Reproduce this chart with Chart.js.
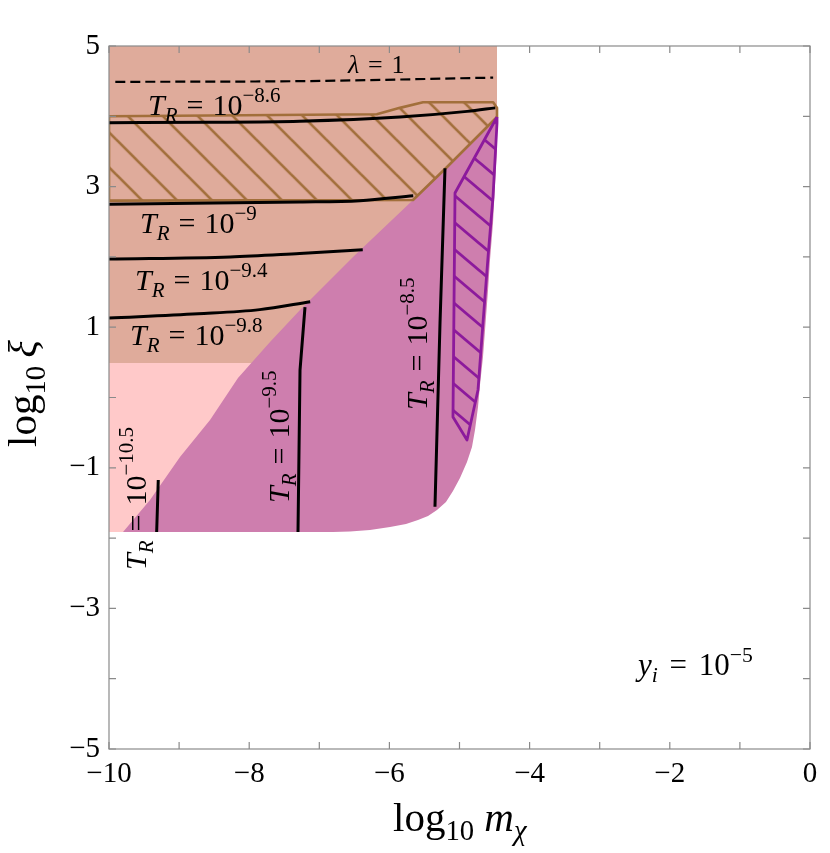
<!DOCTYPE html>
<html><head><meta charset="utf-8">
<script src="https://cdn.jsdelivr.net/npm/chart.js@4.4.0/dist/chart.umd.min.js"></script>
<style>html,body{margin:0;padding:0;background:#fff}#wrap{width:830px;height:853px;position:relative}</style>
</head><body><div id="wrap"><canvas id="c"></canvas></div>
<script>
// ---------- data ----------
const xTickValues = [-10, -8, -6, -4, -2, 0];
const yTickValues = [5, 3, 1, -1, -3, -5];

const lightPinkX = [-10, -7.0, -7.0, -10];
const lightPinkY = [-1.913, -1.913, 0.49, 0.49];

const brownX = [-10, -7.0, -4.60, -4.465, -4.465, -10];
const brownY = [0.49, 0.49, 3.5, 3.99, 5, 5];

const magentaX = [-9.800, -9.415, -8.987, -8.559, -8.160, -7.703, -7.275, -6.519, -5.663, -5.178, -4.465,
                  -4.465, -4.494, -4.522, -4.565, -4.593, -4.636, -4.665, -4.708, -4.736, -4.779, -4.822,
                  -4.893, -4.993, -5.093, -5.193, -5.321, -5.449, -5.592, -5.763, -5.991, -6.277, -6.562,
                  -6.805, -9.800];
const magentaY = [-1.913, -1.458, -0.846, -0.320, 0.277, 0.789, 1.245, 1.999, 2.810, 3.279, 3.990,
                  3.563, 3.023, 2.482, 1.956, 1.529, 0.960, 0.576, 0.178, -0.135, -0.462, -0.704,
                  -0.917, -1.145, -1.330, -1.486, -1.600, -1.686, -1.743, -1.799, -1.842, -1.885, -1.906,
                  -1.913, -1.913];

const brownHatchX = [-10, -6.18, -5.85, -5.52, -4.52, -4.465, -4.465, -5.178, -5.663, -10, -10];
const brownHatchY = [4.00, 4.03, 4.12, 4.20, 4.20, 4.12, 3.99, 3.279, 2.81, 2.80, 4.00];

const purpleHatchX = [-4.465, -5.064, -5.093, -4.893, -4.736, -4.665, -4.593, -4.522, -4.465, -4.465];
const purpleHatchY = [3.99, 2.909, -0.277, -0.605, 0.107, 1.060, 1.999, 2.852, 3.905, 3.99];

const tr86X = [-10, -8.6, -7.28, -5.85, -4.89, -4.49];
const tr86Y = [3.91, 3.915, 3.93, 3.99, 4.07, 4.12];
const tr9X = [-10, -7.28, -6.42, -5.66];
const tr9Y = [2.75, 2.78, 2.80, 2.87];
const tr94X = [-10, -8.27, -7.28, -6.38];
const tr94Y = [1.97, 2.00, 2.05, 2.10];
const tr98X = [-10, -8.73, -7.85, -7.13];
const tr98Y = [1.13, 1.19, 1.25, 1.363];
const tr105X = [-9.297, -9.320];
const tr105Y = [-1.174, -1.913];
const tr95X = [-7.204, -7.275, -7.304];
const tr95Y = [1.287, 0.391, -1.913];
const tr85X = [-5.207, -5.278, -5.350];
const tr85Y = [3.26, 1.06, -1.553];
const lambdaX = [-9.91, -7.28, -4.52];
const lambdaY = [4.49, 4.50, 4.55];

// ---------- helpers ----------
const FONT = '"Liberation Serif", "Times New Roman", serif';
const pts = (xs, ys) => xs.map((x, i) => ({x, y: ys[i]}));
const fmt = v => (v < 0 ? '\u2212' + Math.abs(v) : String(v));

function hatch(w, h, color, lw, tx, ty) {
  const c = document.createElement('canvas');
  c.width = w; c.height = h;
  const g = c.getContext('2d');
  g.strokeStyle = color; g.lineWidth = lw; g.lineCap = 'butt';
  for (const k of [-1, 0, 1]) {
    g.beginPath();
    g.moveTo(-w, k * h - h);
    g.lineTo(2 * w, k * h + 2 * h);
    g.stroke();
  }
  const p = document.getElementById('c').getContext('2d').createPattern(c, 'repeat');
  p.setTransform(new DOMMatrix([1, 0, 0, 1, tx, ty]));
  return p;
}
const brownPattern = hatch(35, 35, '#A26F3B', 2.6, 11.7, 0);
const purplePattern = hatch(32, 27, '#8C1A9C', 2.8, 0, 1);

function region(xs, ys, fillStyle, order, border, bw) {
  return {data: pts(xs, ys), fill: 'shape', backgroundColor: fillStyle,
          borderColor: border || 'rgba(0,0,0,0)', borderWidth: bw || 0.01,
          pointRadius: 0, tension: 0, order, borderJoinStyle: 'round'};
}
function curve(xs, ys, order, smooth, dash, w) {
  const d = {data: pts(xs, ys), fill: false, borderColor: '#000', borderWidth: w || 3,
          borderDash: dash || [], pointRadius: 0, tension: 0, order, borderCapStyle: 'butt'};
  if (smooth) d.cubicInterpolationMode = 'monotone';
  return d;
}

// ---------- text annotations ----------
const TR = e => [{t: 'T', it: 1}, {t: 'R', it: 1, sub: 1}, {gap: 0.3}, {t: '='}, {gap: 0.3}, {t: '10'}, {t: '\u2212' + e, sup: 1}];
const annotations = [
  {segs: [{t: '\u03bb', it: 1}, {gap: 0.34}, {t: '='}, {gap: 0.34}, {t: '1'}], x: -6.591, y: 4.616, size: 26},
  {segs: TR('8.6'), x: -9.444, y: 4.018, size: 30},
  {segs: TR('9'), x: -9.558, y: 2.340, size: 30},
  {segs: TR('9.4'), x: -9.629, y: 1.529, size: 30},
  {segs: TR('9.8'), x: -9.700, y: 0.747, size: 30},
  {segs: TR('10.5'), x: -9.472, y: -2.454, size: 30, rot: 1},
  {segs: TR('9.5'), x: -7.432, y: -1.501, size: 30, rot: 1},
  {segs: TR('8.5'), x: -5.464, y: -0.178, size: 30, rot: 1},
  {segs: [{t: 'y', it: 1}, {t: 'i', it: 1, sub: 1}, {gap: 0.38}, {t: '='}, {gap: 0.38}, {t: '10'}, {t: '\u22125', sup: 1}], x: -2.454, y: -3.947, size: 31}
];
const xTitle = [{t: 'log'}, {t: '10', sub: 1}, {gap: 0.25}, {t: 'm', it: 1}, {t: '\u03c7', it: 1, sub: 1}];
const yTitle = [{t: 'log'}, {t: '10', sub: 1}, {gap: 0.2}, {t: '\u03be', it: 1}];

function drawRich(ctx, segs, x, y, size, rot) {
  ctx.save();
  ctx.translate(x, y);
  if (rot) ctx.rotate(-Math.PI / 2);
  ctx.textBaseline = 'alphabetic'; ctx.textAlign = 'left'; ctx.fillStyle = '#000';
  let cx = 0;
  for (const s of segs) {
    if (s.gap !== undefined) { cx += s.gap * size; continue; }
    const sz = (s.sub || s.sup) ? size * 0.7 : size;
    ctx.font = (s.it ? 'italic ' : '') + sz.toFixed(1) + 'px ' + FONT;
    const dy = s.sub ? 0.22 * size : (s.sup ? -0.42 * size : 0);
    ctx.fillText(s.t, cx, dy);
    cx += ctx.measureText(s.t).width;
  }
  ctx.restore();
}

const decor = {
  id: 'decor',
  afterDatasetsDraw(chart) {
    const ctx = chart.ctx, a = chart.chartArea, xs = chart.scales.x, ys = chart.scales.y;
    ctx.save();
    ctx.strokeStyle = '#8a8a8a'; ctx.lineWidth = 1.2;
    ctx.strokeRect(a.left, a.top, a.right - a.left, a.bottom - a.top);
    const L = 7;
    ctx.beginPath();
    for (let v = -10; v <= 0; v++) {
      const px = xs.getPixelForValue(v);
      ctx.moveTo(px, a.bottom); ctx.lineTo(px, a.bottom - L);
      ctx.moveTo(px, a.top); ctx.lineTo(px, a.top + L);
    }
    for (let v = -5; v <= 5; v++) {
      const py = ys.getPixelForValue(v);
      ctx.moveTo(a.left, py); ctx.lineTo(a.left + L, py);
      ctx.moveTo(a.right, py); ctx.lineTo(a.right - L, py);
    }
    ctx.stroke();
    ctx.restore();
    for (const an of annotations) {
      drawRich(ctx, an.segs, xs.getPixelForValue(an.x), ys.getPixelForValue(an.y), an.size, an.rot);
    }
    drawRich(ctx, xTitle, a.left + 284, a.bottom + 82, 41, 0);
    drawRich(ctx, yTitle, a.left - 73, a.top + 401, 41, 1);
  }
};

new Chart(document.getElementById('c'), {
  type: 'line',
  data: {datasets: [
    region(lightPinkX, lightPinkY, '#FFC9C9', 20),
    region(brownX, brownY, '#DFAB9B', 19),
    region(magentaX, magentaY, '#CE7EAE', 18),
    region(brownHatchX, brownHatchY, brownPattern, 17, '#A26F3B', 2.6),
    region(purpleHatchX, purpleHatchY, purplePattern, 16, '#8C1A9C', 2.8),
    curve(tr86X, tr86Y, 5, true),
    curve(tr9X, tr9Y, 5, true),
    curve(tr94X, tr94Y, 5, true),
    curve(tr98X, tr98Y, 5, true),
    curve(tr105X, tr105Y, 5, false),
    curve(tr95X, tr95Y, 5, false),
    curve(tr85X, tr85Y, 5, false),
    curve(lambdaX, lambdaY, 4, true, [10, 5], 2.2)
  ]},
  options: {
    responsive: true, maintainAspectRatio: false, animation: false, events: [],
    layout: {padding: {top: 46, right: 20, left: 0, bottom: 0}},
    plugins: {legend: {display: false}, tooltip: {enabled: false}},
    scales: {
      x: {type: 'linear', min: -10, max: 0,
          afterFit: s => { s.height = 104; },
          border: {display: false}, grid: {display: false, drawTicks: false},
          ticks: {stepSize: 1, autoSkip: false, maxRotation: 0, padding: 8, color: '#000',
                  font: {family: FONT, size: 29},
                  callback: v => (xTickValues.includes(Math.round(v)) ? fmt(Math.round(v)) : '')}},
      y: {type: 'linear', min: -5, max: 5,
          afterFit: s => { s.width = 109; },
          border: {display: false}, grid: {display: false, drawTicks: false},
          ticks: {stepSize: 1, autoSkip: false, padding: 9, color: '#000',
                  font: {family: FONT, size: 29},
                  callback: v => (yTickValues.includes(Math.round(v)) ? fmt(Math.round(v)) : '')}}
    }
  },
  plugins: [decor]
});
</script></body></html>
